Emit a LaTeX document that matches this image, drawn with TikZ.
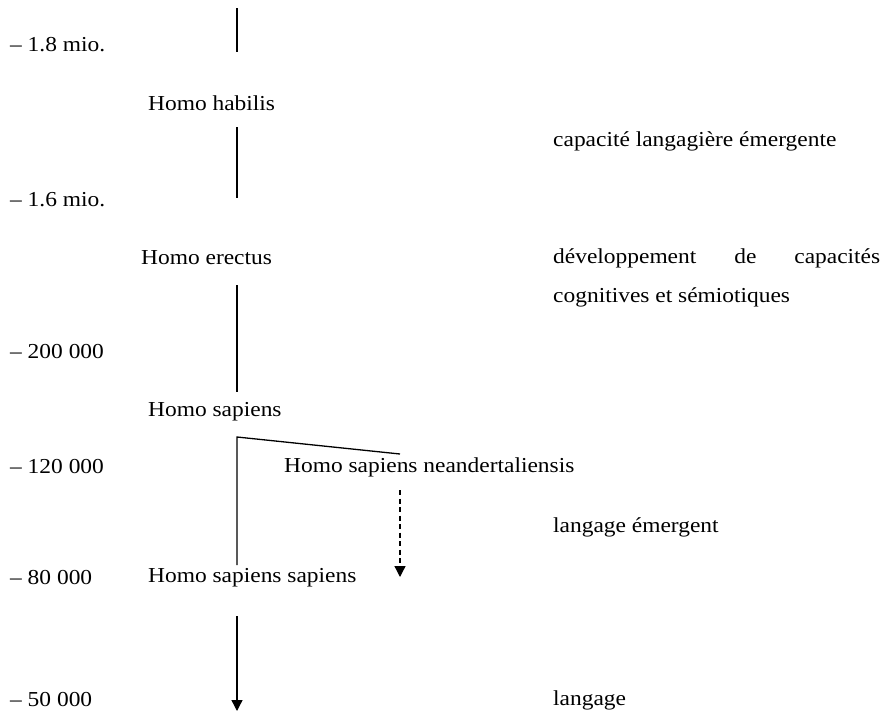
\documentclass[tikz,border=0pt]{standalone}
\usepackage{fontspec}
\setmainfont[FakeStretch=1.1]{Liberation Serif}
\usetikzlibrary{arrows.meta}
\begin{document}
\begin{tikzpicture}[x=1pt,y=-1pt,
  txt/.style={anchor=west,inner sep=0pt,font=\fontsize{21.3}{25}\selectfont},
  conn/.style={line width=1.3pt},
  arr/.style={line width=1.3pt,-{Triangle[width=11pt,length=11pt]}},
  darr/.style={line width=1.3pt,dash pattern=on 5pt off 3.5pt,-{Triangle[width=11pt,length=11pt]}}]
\useasboundingbox (0,0) rectangle (883,715);
% dates
\node[txt] (d1) at (10,45) {– 1.8 mio.};
\node[txt] (d2) at (10,200) {– 1.6 mio.};
\node[txt] (d3) at (10,352) {– 200 000};
\node[txt] (d4) at (10,467) {– 120 000};
\node[txt] (d5) at (10,578) {– 80 000};
\node[txt] (d6) at (10,700) {– 50 000};
% species
\node[txt] (hab) at (148,103) {Homo habilis};
\node[txt] (ere) at (141,258) {Homo erectus};
\node[txt] (sap) at (148,412) {Homo sapiens};
\node[txt] (nea) at (284,467) {Homo sapiens neandertaliensis};
\node[txt] (ss) at (148,578) {Homo sapiens sapiens};
% right column
\node[txt] (r1) at (553,141) {capacité langagière émergente};
\node[txt] (r2) at (553,258) {\makebox[327pt][s]{développement\hfill de\hfill capacités}};
\node[txt] (r3) at (553,297) {cognitives et sémiotiques};
\node[txt] (r4) at (553,527) {langage émergent};
\node[txt] (r5) at (553,700) {langage};
% connector points
\coordinate (t0) at (237,8);
\coordinate (t1) at (237,52);
\coordinate (h1) at (237,127);
\coordinate (h2) at (237,198);
\coordinate (e1) at (237,285);
\coordinate (e2) at (237,392);
\coordinate (s1) at (237,437);
\coordinate (s2) at (237,565);
\coordinate (n0) at (400,454);
\coordinate (n1) at (400,490);
\coordinate (n2) at (400,577);
\coordinate (ss1) at (237,616);
\coordinate (ss2) at (237,711);
\draw[conn] (t0) -- (t1);
\draw[conn] (h1) -- (h2);
\draw[conn] (e1) -- (e2);
\draw[conn] (s2) -- (s1) -- (n0);
\draw[darr] (n1) -- (n2);
\draw[arr] (ss1) -- (ss2);
\end{tikzpicture}
\end{document}
